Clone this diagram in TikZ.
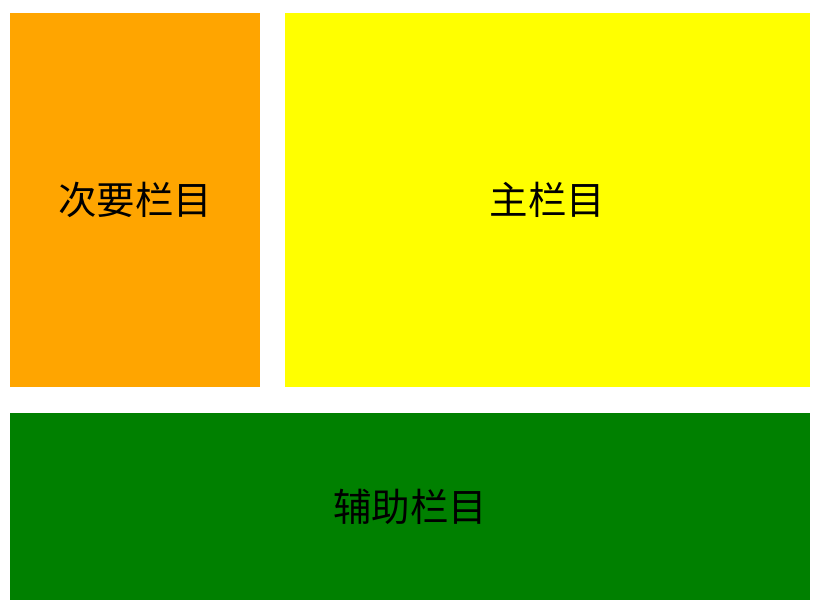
\documentclass[tikz,border=0pt]{standalone}
\usepackage{fontspec}
\newfontfamily\cjk{Noto Sans CJK SC}
\definecolor{colorange}{RGB}{255,165,0}
\definecolor{colyellow}{RGB}{255,255,0}
\definecolor{colgreen}{RGB}{0,128,0}
\tikzset{
  column/.style={rectangle, inner sep=0pt, outer sep=0pt, font=\cjk\fontsize{38.5}{46}\selectfont, text=black},
}
\begin{document}
\begin{tikzpicture}[x=1pt, y=-1pt]
\useasboundingbox (0,0) rectangle (818,606);
\node[column, fill=colorange, minimum width=250pt, minimum height=374pt] (side) at (135,200) {次要栏目};
\node[column, fill=colyellow, minimum width=525pt, minimum height=374pt] (main) at (547.5,200) {主栏目};
\node[column, fill=colgreen, minimum width=800pt, minimum height=187pt] (extra) at (410,506.5) {辅助栏目};
\end{tikzpicture}
\end{document}
